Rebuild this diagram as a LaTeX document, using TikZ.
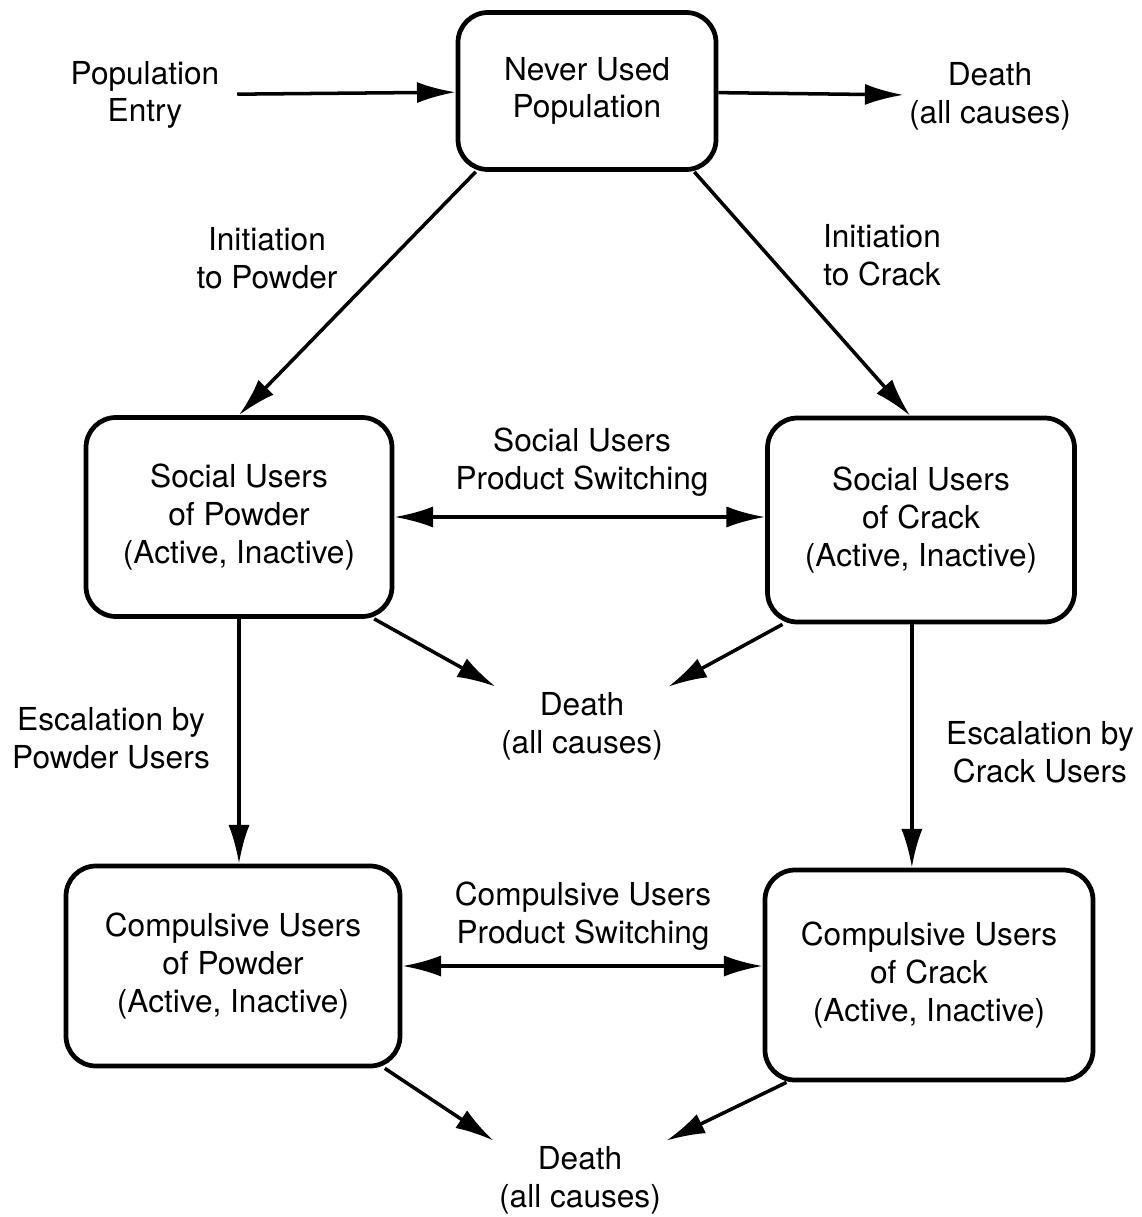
\documentclass[tikz,border=0pt]{standalone}
\usepackage{fontspec}
\setmainfont{TeX Gyre Heros}
\usepackage{tikz}
\usetikzlibrary{arrows.meta}

\tikzset{
    stock/.style={draw, line width=2.7pt, rounded corners=0.6cm, align=center},
    lbl/.style={align=center, inner sep=3pt},
    flow/.style={line width=2pt, -{Latex[length=22pt,width=12pt]}},
    swap/.style={line width=2pt, {Latex[length=22pt,width=12pt]}-{Latex[length=22pt,width=12pt]}}
}

\begin{document}
\begin{tikzpicture}[x=0.02cm, y=-0.02cm, font=\fontsize{18}{21.5}\selectfont]
        \useasboundingbox (0,0) rectangle (1142,1217);

        % stocks
        \node[stock, minimum width=258*0.02cm, minimum height=157*0.02cm] (nu) at (587, 91) {Never Used\\Population};
        \node[stock, minimum width=306*0.02cm, minimum height=199*0.02cm] (sp) at (239, 517) {Social Users\\of Powder\\(Active, Inactive)};
        \node[stock, minimum width=307*0.02cm, minimum height=204*0.02cm] (sc) at (921, 520) {Social Users\\of Crack\\(Active, Inactive)};
        \node[stock, minimum width=334*0.02cm, minimum height=200*0.02cm] (cp) at (233, 966) {Compulsive Users\\of Powder\\(Active, Inactive)};
        \node[stock, minimum width=328*0.02cm, minimum height=210*0.02cm] (cc) at (929, 975) {Compulsive Users\\of Crack\\(Active, Inactive)};

        % sources and sinks
        \node[lbl, inner sep=10pt] (pe) at (145, 95) {Population\\Entry};
        \node[lbl] (dt) at (990, 96) {Death\\(all causes)};
        \node[lbl] (dm) at (582, 726) {Death\\(all causes)};
        \node[lbl] (db) at (580, 1180) {Death\\(all causes)};

        % flow labels
        \node[lbl] (ip) at (267, 258) {Initiation\\to Powder};
        \node[lbl] (ic) at (882, 255) {Initiation\\to Crack};
        \node[lbl] (ss) at (582, 462) {Social Users\\Product Switching};
        \node[lbl] (cs) at (583, 916) {Compulsive Users\\Product Switching};
        \node[lbl] (ep) at (111, 738) {Escalation by\\Powder Users};
        \node[lbl] (ec) at (1040, 752) {Escalation by\\Crack Users};

        % flows
        \draw[flow] (pe) -- (nu);
        \draw[flow] (nu) -- (dt);
        \draw[flow] (nu.216) -- (sp.north);
        \draw[flow] (nu.323) -- (sc.96);
        \draw[swap] (sp.east) -- (sp.east -| sc.west);
        \draw[swap] (cp.east) -- (cp.east -| cc.west);
        \draw[flow] (sp.-37) -- (dm.north west);
        \draw[flow] (sc.217) -- (dm.north east);
        \draw[flow] (sp.south) -- (sp.south |- cp.north);
        \draw[flow] (sc.-95) -- (sc.-95 |- cc.north);
        \draw[flow] (cp.-34) -- (db.north west);
        \draw[flow] (cc.217) -- (db.north east);

    \end{tikzpicture}
\end{document}
